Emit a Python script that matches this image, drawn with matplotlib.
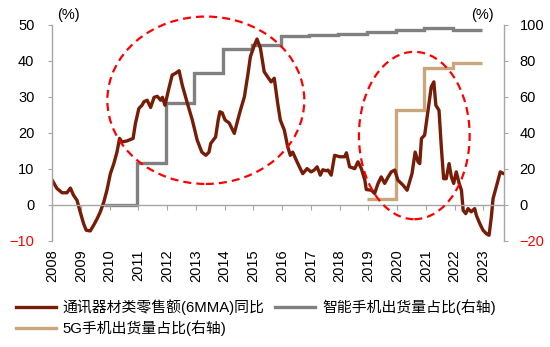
import numpy as np
import matplotlib
matplotlib.use("Agg")
import matplotlib.pyplot as plt
from matplotlib.patches import Ellipse
from matplotlib.lines import Line2D

plt.rcParams['font.family'] = ['Liberation Sans', 'Noto Sans CJK SC', 'DejaVu Sans']

# ---- data ----
retail_x = [2008.00, 2008.17, 2008.35, 2008.52, 2008.64, 2008.75, 2008.87, 2008.98, 2009.10, 2009.19,
            2009.33, 2009.45, 2009.57, 2009.68, 2009.80, 2009.91, 2010.03, 2010.15, 2010.26, 2010.35,
            2010.43, 2010.61, 2010.82, 2010.90, 2011.02, 2011.13, 2011.20, 2011.31, 2011.43, 2011.55,
            2011.66, 2011.78, 2011.84, 2011.93, 2012.05, 2012.18, 2012.30, 2012.42, 2012.53, 2012.71,
            2012.88, 2013.05, 2013.21, 2013.35, 2013.46, 2013.52, 2013.69, 2013.78, 2013.84, 2013.92,
            2014.02, 2014.16, 2014.34, 2014.46, 2014.57, 2014.69, 2014.81, 2014.90, 2015.02, 2015.13,
            2015.25, 2015.38, 2015.50, 2015.62, 2015.73, 2015.85, 2015.94, 2016.08, 2016.20, 2016.29,
            2016.37, 2016.55, 2016.72, 2016.87, 2017.01, 2017.12, 2017.22, 2017.33, 2017.42, 2017.53,
            2017.60, 2017.71, 2017.83, 2018.01, 2018.18, 2018.24, 2018.35, 2018.53, 2018.64, 2018.76,
            2018.88, 2018.93, 2019.11, 2019.22, 2019.34, 2019.45, 2019.57, 2019.69, 2019.80, 2019.92,
            2020.03, 2020.21, 2020.35, 2020.52, 2020.63, 2020.73, 2020.79, 2020.85, 2020.96, 2021.08,
            2021.19, 2021.28, 2021.35, 2021.46, 2021.54, 2021.62, 2021.71, 2021.81, 2021.89, 2021.97,
            2022.06, 2022.16, 2022.24, 2022.30, 2022.39, 2022.47, 2022.58, 2022.70, 2022.76, 2022.88,
            2022.99, 2023.11, 2023.20, 2023.28, 2023.34, 2023.45, 2023.59, 2023.71]
retail_yoy = [7.0, 4.6, 3.4, 3.4, 4.7, 2.7, 1.3, -1.9, -5.2, -7.0,
              -7.2, -5.6, -3.8, -1.9, 0.8, 4.1, 8.7, 11.5, 14.7, 18.5,
              17.5, 17.8, 18.5, 22.6, 26.8, 27.7, 28.7, 29.1, 27.1, 29.9,
              30.2, 29.1, 29.9, 27.7, 31.9, 36.1, 36.6, 37.3, 33.3, 28.2,
              23.6, 18.0, 14.7, 13.8, 14.7, 17.1, 18.9, 23.6, 25.9, 25.6,
              23.6, 22.8, 19.9, 23.6, 26.8, 30.0, 36.1, 41.2, 44.0, 46.1,
              43.5, 37.0, 35.6, 34.2, 35.2, 28.2, 23.6, 20.8, 16.1, 13.8,
              14.7, 11.5, 8.7, 10.1, 9.2, 9.7, 10.6, 8.3, 9.8, 9.5,
              9.7, 8.3, 13.8, 13.4, 13.4, 14.5, 10.6, 10.1, 12.0, 10.1,
              6.9, 4.3, 4.1, 3.2, 6.0, 7.8, 6.0, 7.8, 9.2, 9.7,
              6.9, 5.5, 4.1, 8.7, 14.7, 12.0, 11.5, 18.5, 19.4, 26.3,
              32.8, 34.2, 27.7, 26.3, 16.1, 7.3, 7.3, 11.5, 7.8, 6.0,
              9.2, 6.0, 4.1, -1.5, -2.4, -1.0, -1.9, -1.0, -2.9, -5.2,
              -7.0, -8.0, -8.4, -3.3, 1.8, 5.0, 9.2, 8.7]

smart_years = [2010, 2011, 2012, 2013, 2014, 2015, 2016, 2017, 2018, 2019, 2020, 2021, 2022]
smart_share = [0.0, 23.4, 56.4, 73.5, 86.5, 88.9, 93.9, 94.6, 95.0, 96.0, 97.0, 98.2, 97.4]
smart_start = 2009.8   # first month of the series

g5_years = [2019, 2020, 2021, 2022]
g5_share = [3.2, 52.7, 76.2, 79.0]

year_ticks = list(range(2008, 2024))
left_ticks = [-10, 0, 10, 20, 30, 40, 50]
right_ticks = [-20, 0, 20, 40, 60, 80, 100]

label_retail = '通讯器材类零售额(6MMA)同比'
label_smart = '智能手机出货量占比(右轴)'
label_5g = '5G手机出货量占比(右轴)'

# ---- style ----
c_brown = '#761C07'
c_gray = '#808080'
c_tan = '#C9A67C'
c_red = '#FF0000'
c_axis = '#A6A6A6'
shift = 0.05  # annual steps switch just before the year tick

fig = plt.figure(figsize=(5.5, 3.47), dpi=100)
ax = fig.add_axes([52/550, 1-241/347, 452/550, 216/347])
ax2 = ax.twinx()
ax.set_zorder(ax2.get_zorder() + 1)
ax.patch.set_visible(False)

# right axis series (steps)
edges = np.append(np.array(smart_years, float) - shift, smart_years[-1] + 1 - shift)
edges[0] = smart_start
ax2.stairs(smart_share, edges, color=c_gray, lw=2.4, baseline=None)
edges5 = np.append(np.array(g5_years, float) - shift, g5_years[-1] + 1 - shift)
ax2.stairs(g5_share, edges5, color=c_tan, lw=2.4, baseline=None)

ax.plot(retail_x, retail_yoy, color=c_brown, lw=2.4, solid_joinstyle='round', solid_capstyle='round')

# dashed ellipses
for (cx, cy, w, h) in [(2013.35, 29.1, 6.85, 46.5), (2020.6, 19.3, 3.85, 46.5)]:
    ax.add_patch(Ellipse((cx, cy), w, h, fill=False, edgecolor=c_red, lw=1.6,
                         linestyle=(0, (3.6, 2.3)), zorder=10, clip_on=False))

ax.set_xlim(2008, 2023.72)
ax.set_ylim(-10, 50)
ax2.set_ylim(-20, 100)

ax.set_yticks(left_ticks)
ax2.set_yticks(right_ticks)
for a in (ax, ax2):
    a.spines['top'].set_visible(False)
    for s in a.spines.values():
        s.set_color(c_axis)
        s.set_linewidth(1.0)
ax.spines['right'].set_visible(False)
ax2.spines['left'].set_visible(False)
ax2.spines['bottom'].set_visible(False)
ax.spines['bottom'].set_position(('data', 0))

ax.tick_params(axis='y', direction='out', length=3.2, color=c_axis, labelsize=10.5, pad=9.5)
ax2.tick_params(axis='y', direction='out', length=3.2, color=c_axis, labelsize=10.5, pad=8)
ax.set_xticks(year_ticks)
ax.tick_params(axis='x', direction='out', length=3.5, color=c_axis, labelbottom=False)

for t, v in zip(ax.get_yticklabels(), left_ticks):
    t.set_color(c_red if v < 0 else 'black')
for t, v in zip(ax2.get_yticklabels(), right_ticks):
    t.set_color(c_red if v < 0 else 'black')

sec = ax.secondary_xaxis('bottom')
sec.spines['bottom'].set_visible(False)
sec.set_xticks(year_ticks)
sec.set_xticklabels([str(y) for y in year_ticks], rotation=90)
sec.tick_params(axis='x', length=0, labelsize=10.5, pad=6)

fig.text(68/550, 1-15/347, '(%)', ha='center', va='center', fontsize=10.5)
fig.text(482/550, 1-15/347, '(%)', ha='center', va='center', fontsize=10.5)

handles = [Line2D([], [], color=c_brown, lw=2.4),
           Line2D([], [], color=c_tan, lw=2.4),
           Line2D([], [], color=c_gray, lw=2.4)]
fig.legend(handles, [label_retail, label_5g, label_smart], ncol=2,
           loc='upper left', bbox_to_anchor=(16/550, 1-299/347), frameon=False,
           fontsize=10.7, handlelength=2.7, handletextpad=0.45, columnspacing=0.7,
           labelspacing=0.35, borderpad=0, borderaxespad=0)

fig.savefig('out.png', dpi=100)
